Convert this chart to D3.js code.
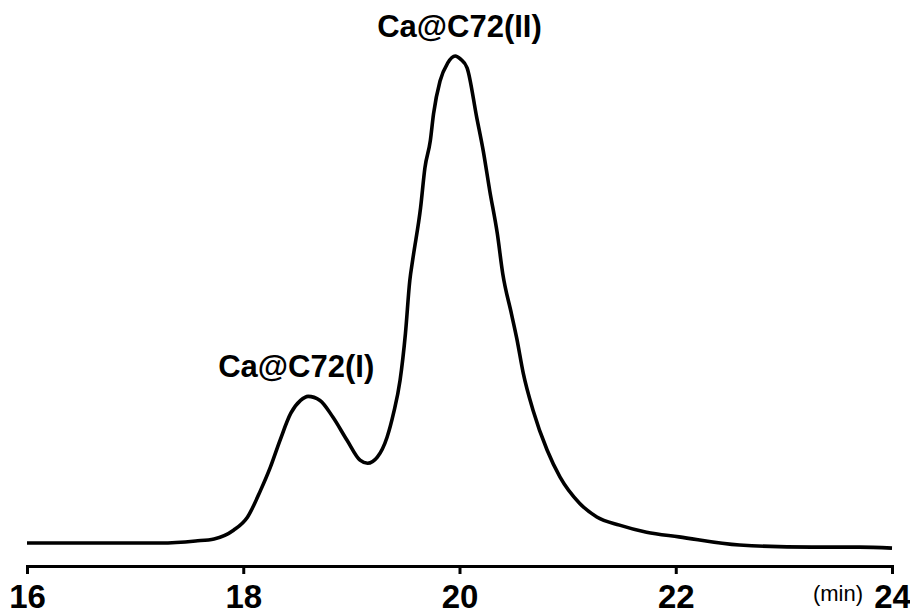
<!DOCTYPE html>
<html lang="en">

<head>
  <title>Ca@C72 HPLC</title>
  <meta charset="UTF-8">
  <style>
    body { margin: 0; background: #fff; }
    svg { display: block; }
  </style>
</head>

<body>
  <div class="container"></div>
  <script src="https://cdn.jsdelivr.net/npm/d3@7"></script>
  <script>
    // retention time (min) and relative signal
    var times = [16.00, 17.24, 17.56, 17.73, 17.91, 18.04, 18.16, 18.25, 18.34, 18.44,
      18.53, 18.60, 18.71, 18.83, 18.96, 19.08, 19.15, 19.24, 19.33, 19.39,
      19.45, 19.50, 19.54, 19.57, 19.64, 19.68, 19.73, 19.76, 19.82, 19.89,
      19.96, 20.01, 20.07, 20.16, 20.22, 20.28, 20.35, 20.40, 20.48, 20.53,
      20.59, 20.68, 20.81, 20.93, 21.11, 21.27, 21.48, 21.73, 22.03, 22.59,
      23.26, 23.70, 24.00];
    var signal = [4.5, 4.5, 4.9, 5.3, 7.0, 9.6, 14.8, 19.3, 24.6, 29.9,
      32.4, 33.2, 32.4, 29.1, 24.6, 20.7, 20.1, 21.3, 25.2, 29.9,
      36.3, 45.5, 55.8, 60.3, 70.1, 77.9, 83.2, 88.5, 94.9, 98.4,
      99.8, 99.2, 97.5, 87.7, 81.2, 73.4, 65.0, 57.2, 49.4, 44.5,
      37.7, 30.5, 22.7, 17.4, 12.3, 9.6, 8.0, 6.6, 5.7, 4.1,
      3.7, 3.7, 3.5];

    var tickValues = [16, 18, 20, 22, 24];
    var peakNames = ["Ca@C72(I)", "Ca@C72(II)"];
    var peakTimes = [18.49, 20.00];
    var peakSignal = [33.2, 99.8];

    var width = 910, height = 610;
    var svg = d3.select('.container').append('svg')
      .attr('width', width)
      .attr('height', height);

    var x = d3.scaleLinear().domain([16, 24]).range([27, 892]);
    var y = d3.scaleLinear().domain([0, 100]).range([566, 55]);

    var pts = times.map(function (t, i) { return [t, signal[i]]; });

    var line = d3.line()
      .x(function (d) { return x(d[0]); })
      .y(function (d) { return y(d[1]); })
      .curve(d3.curveMonotoneX);

    svg.append('path')
      .datum(pts)
      .attr('d', line)
      .attr('fill', 'none')
      .attr('stroke', '#000')
      .attr('stroke-width', 3.6)
      .attr('stroke-linejoin', 'round');

    var axis = svg.append('g')
      .attr('transform', 'translate(0,' + y(0) + ')')
      .call(d3.axisBottom(x).tickValues(tickValues).tickFormat(d3.format('d'))
        .tickSize(8).tickSizeOuter(8).tickPadding(11));
    axis.select('.domain').attr('stroke-width', 3);
    axis.selectAll('.tick line').attr('stroke-width', 3);
    axis.selectAll('.tick text')
      .attr('font-family', '"Liberation Sans", Arial, sans-serif')
      .attr('font-weight', 'bold')
      .attr('font-size', 33)
      .attr('fill', '#000');

    svg.append('text')
      .attr('x', x(24) - 29)
      .attr('y', 601)
      .attr('text-anchor', 'end')
      .attr('font-family', '"Liberation Sans", Arial, sans-serif')
      .attr('font-size', 22)
      .text('(min)');

    svg.selectAll('.peak')
      .data(peakNames)
      .enter().append('text')
      .attr('class', 'peak')
      .attr('x', function (d, i) { return x(peakTimes[i]); })
      .attr('y', function (d, i) { return y(peakSignal[i]) - 19; })
      .attr('text-anchor', 'middle')
      .attr('font-family', '"Liberation Sans", Arial, sans-serif')
      .attr('font-weight', 'bold')
      .attr('font-size', 31)
      .text(function (d) { return d; });
  </script>
</body>

</html>
